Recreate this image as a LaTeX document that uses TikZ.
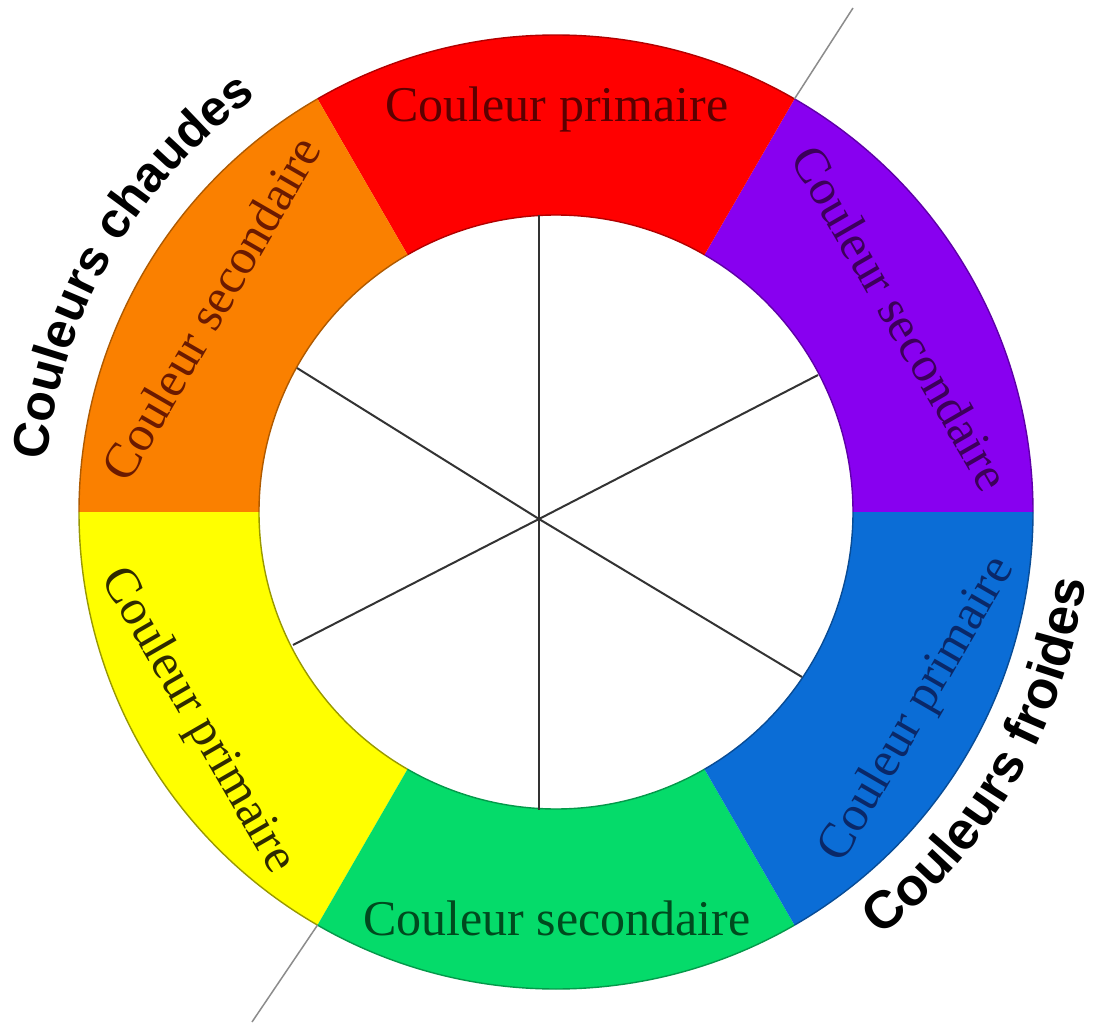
\documentclass[tikz,border=0pt]{standalone}
\usepackage{fontspec}
\newfontfamily\labelsans{Liberation Sans}
\newfontfamily\labelserif{Liberation Serif}
\usetikzlibrary{decorations.text}
\definecolor{cred}{HTML}{FF0000}
\definecolor{corange}{HTML}{FA8000}
\definecolor{cpurple}{HTML}{8800F0}
\definecolor{cblue}{HTML}{0B6DD6}
\definecolor{cgreen}{HTML}{05DB6A}
\definecolor{cyellow}{HTML}{FFFF00}
\definecolor{tred}{HTML}{5C0000}
\definecolor{torange}{HTML}{6B1A00}
\definecolor{tpurple}{HTML}{3C005A}
\definecolor{tyellow}{HTML}{2E2A00}
\definecolor{tgreen}{HTML}{004A1E}
\definecolor{tblue}{HTML}{0A2868}
\newcommand\warmsans{\labelsans\bfseries\fontsize{50}{50}\selectfont}
\newcommand\coldsans{\labelsans\bfseries\fontsize{53}{53}\selectfont}
\newcommand\ringseg[3]{%
  \fill[#2] (#1:297pt) -- (#1:477pt) arc[start angle=#1, delta angle=60, radius=477pt]
     -- ({#1+60}:297pt) arc[start angle={#1+60}, delta angle=-60, radius=297pt] -- cycle;
  \draw[ringedge, #3] (#1:477pt) arc[start angle=#1, delta angle=60, radius=477pt];
  \draw[ringedge, #3] (#1:297pt) arc[start angle=#1, delta angle=60, radius=297pt];
}
\begin{document}
\begin{tikzpicture}[x=1pt, y=1pt,
  ringedge/.style={line width=1.4pt},
  spoke/.style={draw=black!80, line width=2pt},
  diag/.style={draw=black!45, line width=1.5pt},
  seglabel/.style={inner sep=0pt, font=\labelserif\fontsize{50}{50}\selectfont}]
\useasboundingbox (-556,-516) rectangle (541,512);
\fill[white] (-556,-516) rectangle (541,512);

% ring segments
\ringseg{0}{cpurple}{cpurple!70!black}
\ringseg{60}{cred}{cred!70!black}
\ringseg{120}{corange}{corange!70!black}
\ringseg{180}{cyellow}{cyellow!60!black}
\ringseg{240}{cgreen}{cgreen!70!black}
\ringseg{300}{cblue}{cblue!70!black}

% spokes
\coordinate (S) at (-17,-7);
\coordinate (sT) at (-17,297);
\coordinate (sB) at (-17,-298);
\coordinate (sLU) at (-259,144);
\coordinate (sRL) at (246,-165);
\coordinate (sRU) at (262,137);
\coordinate (sLL) at (-263,-133);
\draw[spoke] (S) -- (sT);
\draw[spoke] (S) -- (sB);
\draw[spoke] (S) -- (sLU);
\draw[spoke] (S) -- (sRL);
\draw[spoke] (S) -- (sRU);
\draw[spoke] (S) -- (sLL);

% diagonal separator
\coordinate (dRingTop) at (60:477pt);
\coordinate (dTop) at (297,504);
\coordinate (dRingBot) at (240:477pt);
\coordinate (dBot) at (-304,-510);
\draw[diag] (dRingTop) -- (dTop);
\draw[diag] (dRingBot) -- (dBot);

% segment labels
\node[seglabel, text=tred] (lred) at (1,403) {Couleur primaire};
\node[seglabel, text=torange, rotate=60] (lorange) at (-345,204) {Couleur secondaire};
\node[seglabel, text=tpurple, rotate=-60] (lpurple) at (345,194) {Couleur secondaire};
\node[seglabel, text=tyellow, rotate=-60] (lyellow) at (-359,-209) {Couleur primaire};
\node[seglabel, text=tgreen] (lgreen) at (1,-406) {Couleur secondaire};
\node[seglabel, text=tblue, rotate=60] (lblue) at (362,-198) {Couleur primaire};

% curved group labels
\path[decorate, decoration={text along path, text align=center,
   text={|\warmsans|Couleurs chaudes}}]
   (205:512pt) arc[start angle=205, end angle=95, radius=512pt];
\path[decorate, decoration={text along path, text align=center,
   text={|\coldsans|Couleurs froides}}]
   (-85:534pt) arc[start angle=-85, end angle=25, radius=534pt];
\end{tikzpicture}
\end{document}
